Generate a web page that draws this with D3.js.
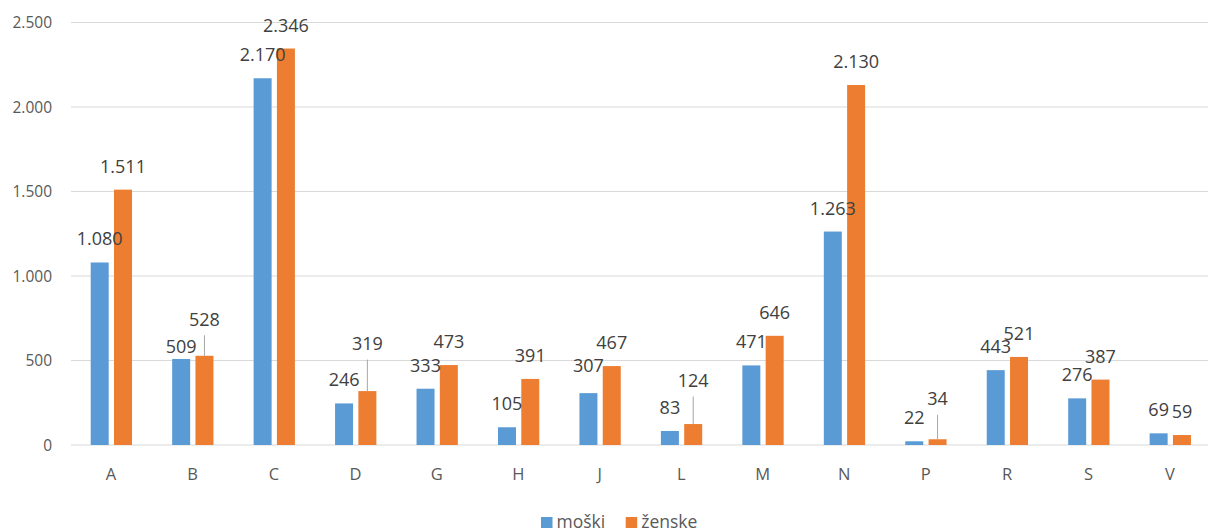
<!DOCTYPE html>
<html>
<head>
<meta charset="utf-8">
<script src="https://cdn.jsdelivr.net/npm/d3@7/dist/d3.min.js"></script>
<style>
  html, body { margin: 0; padding: 0; background: #fff; }
  svg { display: block; }
</style>
</head>
<body>
<svg id="chart" width="1208" height="531"></svg>
<script>
// ---- data ----
const categories = ["A","B","C","D","G","H","J","L","M","N","P","R","S","V"];
const seriesNames = ["moški","ženske"];
const moski  = [1080, 509, 2170, 246, 333, 105, 307, 83, 471, 1263, 22, 443, 276, 69];
const zenske = [1511, 528, 2346, 319, 473, 391, 467, 124, 646, 2130, 34, 521, 387, 59];
const yTicks = [0, 500, 1000, 1500, 2000, 2500];

// ---- layout / style (separate from data) ----
const colors = {"moški": "#5B9BD5", "ženske": "#ED7D31"};
const defaultLift = 17;            // baseline of label above bar top
const liftOverride = {             // manually moved labels in the original
  "B|moški": 6, "B|ženske": 30, "D|ženske": 41, "J|moški": 21,
  "L|ženske": 37, "P|ženske": 34
};
const font = "'Open Sans', 'Noto Sans', sans-serif";

const svg = d3.select("#chart");
const y = d3.scaleLinear().domain([0, 2500]).range([445, 22.5]);
const x0 = d3.scaleBand().domain(categories).range([70.3, 1210.7]).paddingInner(0).paddingOuter(0);
const x1 = d3.scaleBand().domain(seriesNames).range([20.4, 61.7]).paddingInner(0.2275).paddingOuter(0);

// gridlines
svg.append("g").selectAll("line").data(yTicks).join("line")
  .attr("x1", 71).attr("x2", 1208)
  .attr("y1", d => y(d)).attr("y2", d => y(d))
  .attr("stroke", "#D9D9D9").attr("stroke-width", 1.2);

// y tick labels
const fmt = v => d3.format(",")(v).replace(/,/g, ".");
svg.append("g").selectAll("text").data(yTicks).join("text")
  .attr("x", 52).attr("y", d => y(d)).attr("dy", "0.36em")
  .attr("text-anchor", "end")
  .attr("font-family", font).attr("font-size", 15.5).attr("fill", "#595959")
  .text(fmt);

// bars
const rows = categories.map((c, i) => ({cat: c, vals: [
  {s: "moški", v: moski[i]}, {s: "ženske", v: zenske[i]}
]}));
const flat = rows.flatMap(r => r.vals.map(d => ({cat: r.cat, s: d.s, v: d.v})));

svg.append("g").selectAll("rect").data(flat).join("rect")
  .attr("x", d => x0(d.cat) + x1(d.s))
  .attr("width", x1.bandwidth())
  .attr("y", d => y(d.v))
  .attr("height", d => y(0) - y(d.v))
  .attr("fill", d => colors[d.s]);

// leader lines and labels
const lift = d => liftOverride[d.cat + "|" + d.s] ?? defaultLift;
const cx = d => x0(d.cat) + x1(d.s) + x1.bandwidth() / 2;

svg.append("g").selectAll("line").data(flat.filter(d => lift(d) > 25)).join("line")
  .attr("x1", cx).attr("x2", cx)
  .attr("y1", d => y(d.v) - lift(d) + 9.5)
  .attr("y2", d => y(d.v))
  .attr("stroke", "#A6A6A6").attr("stroke-width", 1);

svg.append("g").selectAll("text").data(flat).join("text")
  .attr("x", cx)
  .attr("y", d => y(d.v) - lift(d))
  .attr("text-anchor", "middle")
  .attr("font-family", font).attr("font-size", 18).attr("fill", "#404040")
  .text(d => fmt(d.v));

// category axis labels
svg.append("g").selectAll("text").data(categories).join("text")
  .attr("x", d => x0(d) + x0.bandwidth() / 2)
  .attr("y", 480)
  .attr("text-anchor", "middle")
  .attr("font-family", font).attr("font-size", 16.5).attr("fill", "#595959")
  .text(d => d);

// legend
const legend = svg.append("g");
const legendItems = [{s: "moški", x: 541}, {s: "ženske", x: 625.7}];
legend.selectAll("rect").data(legendItems).join("rect")
  .attr("x", d => d.x).attr("y", 517).attr("width", 11.5).attr("height", 11)
  .attr("fill", d => colors[d.s]);
legend.selectAll("text").data(legendItems).join("text")
  .attr("x", d => d.x + 15.5).attr("y", 527.5)
  .attr("font-family", font).attr("font-size", 17.5).attr("fill", "#595959")
  .text(d => d.s);
</script>
</body>
</html>
